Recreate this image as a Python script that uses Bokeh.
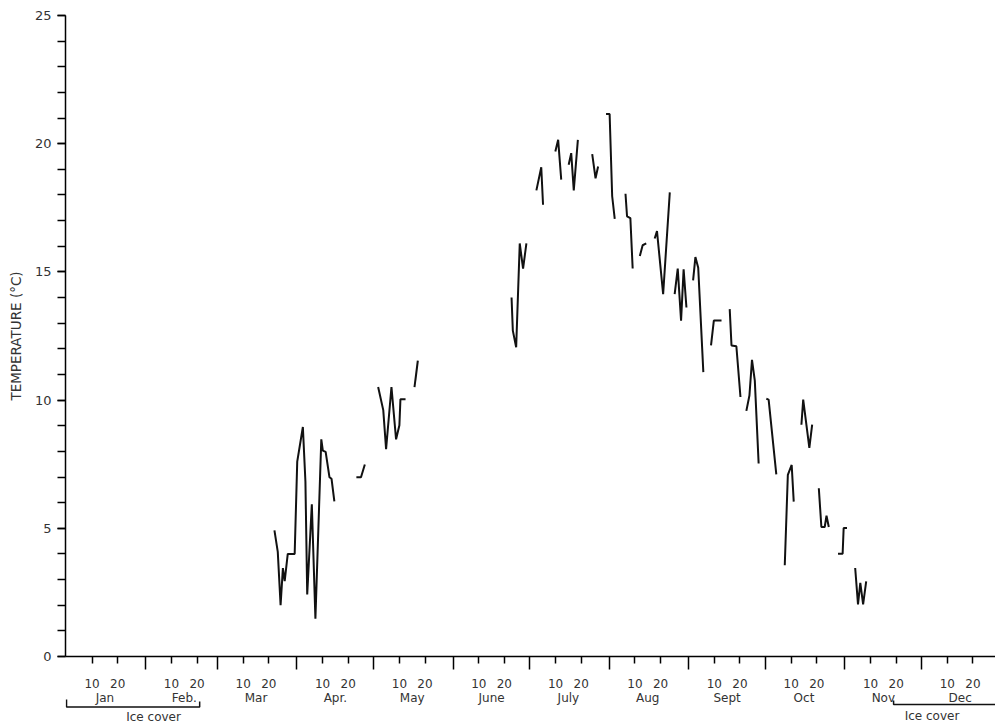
from bokeh.plotting import figure
from bokeh.models import Range1d, FixedTicker
from bokeh.layouts import column
from bokeh.embed import file_html
from bokeh.resources import INLINE
from bokeh.core.properties import value

# ---- calendar structure (day of year at start of each month) ----
month_names = ["Jan", "Feb.", "Mar", "Apr.", "May", "June",
               "July", "Aug", "Sept", "Oct", "Nov", "Dec"]
month_start = [0, 31, 59, 90, 120, 151, 181, 212, 243, 273, 304, 334]
day_ticks_in_month = [10, 20]

# ---- temperature record (day of year, deg C), broken into runs ----
seg_day = [
    [81.2, 82.5, 83.6, 84.5, 85.2, 86.4, 89.1, 90.1, 92.3, 93.3, 94.0, 95.8,
     97.2, 99.5, 100.1, 101.2, 102.7, 103.5, 104.6],
    [113.2, 115.0, 116.5],
    [121.7, 123.7, 124.8, 126.9, 128.7, 130.0, 130.4, 132.4],
    [135.9, 137.2],
    [173.8, 174.3, 175.6, 177.0, 178.3, 179.6],
    [183.5, 185.4, 186.1],
    [190.9, 192.0, 193.2],
    [196.1, 197.1, 198.1, 199.7],
    [205.3, 206.6, 207.6],
    [210.7, 212.1, 213.1, 214.1],
    [218.3, 218.9, 220.2, 221.1],
    [223.9, 225.0, 226.4],
    [229.7, 230.6, 233.0, 235.6],
    [237.5, 238.7, 240.0, 241.0, 242.1],
    [244.7, 245.6, 246.7, 248.7],
    [251.7, 252.8, 255.8],
    [259.0, 259.7, 261.6, 263.2],
    [265.5, 266.7, 267.7, 268.8, 270.3],
    [273.3, 274.2, 277.2],
    [280.5, 281.7, 283.2, 284.0],
    [287.0, 287.7, 290.1, 291.2],
    [293.8, 294.8, 296.1, 296.8, 297.7],
    [301.3, 303.1, 303.5, 304.8],
    [308.0, 309.1, 310.0, 311.1, 312.3],
]
seg_temp = [
    [4.92, 4.08, 2.0, 3.45, 2.94, 4.0, 4.0, 7.6, 8.95, 6.82, 2.42, 5.94,
     1.47, 8.47, 8.03, 7.98, 6.99, 6.93, 6.05],
    [6.99, 6.99, 7.49],
    [10.51, 9.61, 8.09, 10.51, 8.47, 9.02, 10.03, 10.03],
    [10.51, 11.54],
    [14.0, 12.71, 12.06, 16.11, 15.13, 16.11],
    [18.18, 19.08, 17.62],
    [19.7, 20.15, 18.6],
    [19.18, 19.63, 18.18, 20.15],
    [19.59, 18.65, 19.11],
    [21.16, 21.16, 17.95, 17.07],
    [18.05, 17.17, 17.1, 15.13],
    [15.62, 16.04, 16.11],
    [16.3, 16.59, 14.13, 18.1],
    [14.13, 15.13, 13.1, 15.1, 13.61],
    [14.67, 15.58, 15.16, 11.09],
    [12.13, 13.1, 13.1],
    [13.55, 12.13, 12.10, 10.12],
    [9.58, 10.18, 11.57, 10.76, 7.53],
    [10.05, 10.02, 7.1],
    [3.56, 7.08, 7.47, 6.04],
    [9.04, 10.02, 8.14, 9.04],
    [6.56, 5.05, 5.05, 5.49, 5.05],
    [4.01, 4.01, 5.01, 5.01],
    [3.45, 2.03, 2.87, 2.03, 2.93],
]

# ---- ice cover periods (day of year) ----
ice_start = [0, 323]
ice_end = [52, 365]
ice_label_day = [34, 338]

y_major = [0, 5, 10, 15, 20, 25]
y_minor = list(range(0, 26))

FONT = "DejaVu Sans"
TXT = "#333333"

W = 995
H_MAIN = 690
H_STRIP = 34

x_range = Range1d(-0.4, 362.8)

p = figure(width=W, height=H_MAIN, x_range=x_range, y_range=Range1d(0, 25),
           output_backend="svg", toolbar_location=None,
           min_border_left=65, min_border_right=0, min_border_top=15,
           min_border_bottom=31)
p.outline_line_color = None
p.xgrid.visible = False
p.ygrid.visible = False
p.background_fill_color = "white"
p.border_fill_color = "white"

p.multi_line(xs=seg_day, ys=seg_temp, line_color="#111111", line_width=2)

# x axis: 10/20 ticks labelled, month boundaries as longer ticks
x_major = []
x_over = {}
for s in month_start:
    for d in day_ticks_in_month:
        x_major.append(s + d)
        x_over[s + d] = str(d)
xa = p.xaxis[0]
xa.ticker = FixedTicker(ticks=x_major, minor_ticks=month_start[1:])
xa.major_label_overrides = x_over
xa.major_tick_out = 7
xa.major_tick_in = 0
xa.minor_tick_out = 13
xa.minor_tick_in = 0
xa.major_label_standoff = 9
xa.axis_line_width = 1.5
xa.major_tick_line_width = 1.5
xa.minor_tick_line_width = 1.5
xa.major_label_text_font = FONT
xa.major_label_text_font_size = "12px"
xa.major_label_text_color = TXT

ya = p.yaxis[0]
ya.ticker = FixedTicker(ticks=y_major, minor_ticks=y_minor)
ya.major_tick_out = 8
ya.major_tick_in = 0
ya.minor_tick_out = 8
ya.minor_tick_in = 0
ya.major_label_standoff = 6
ya.axis_line_width = 1.5
ya.major_tick_line_width = 1.3
ya.minor_tick_line_width = 1.3
ya.major_label_text_font = FONT
ya.major_label_text_font_size = "13px"
ya.major_label_text_color = TXT
ya.axis_label = "TEMPERATURE (°C)"
ya.axis_label_text_font = FONT
ya.axis_label_text_font_size = "13.5px"
ya.axis_label_text_font_style = "normal"
ya.axis_label_text_color = TXT
ya.axis_label_standoff = 8

# ---- strip under the axis: month names and ice-cover brackets ----
p2 = figure(width=W, height=H_STRIP, x_range=x_range, y_range=Range1d(0, H_STRIP),
            output_backend="svg", toolbar_location=None,
            x_axis_type=None, y_axis_type=None,
            min_border_left=65, min_border_right=0, min_border_top=0,
            min_border_bottom=0)
p2.outline_line_color = None
p2.background_fill_color = "white"
p2.border_fill_color = "white"

month_mid = [s + 15 for s in month_start]
p2.text(x=month_mid, y=[26.5] * len(month_mid), text=month_names,
        text_font=value(FONT), text_font_size="12px", text_color=TXT,
        text_align="center", text_baseline="middle")

br_xs = [[s, s, e, e] for s, e in zip(ice_start, ice_end)]
br_ys = [[25, 17.5, 17.5, 23], [24, 20, 20, 24]]
p2.multi_line(xs=br_xs, ys=br_ys, line_color="#111111", line_width=1.5)

p2.text(x=ice_label_day, y=[8, 9], text=["Ice cover", "Ice cover"],
        text_font=value(FONT), text_font_size="12px", text_color=TXT,
        text_align="center", text_baseline="middle")

layout = column(p, p2, spacing=0)
open("out.html", "w").write(file_html(layout, INLINE))
